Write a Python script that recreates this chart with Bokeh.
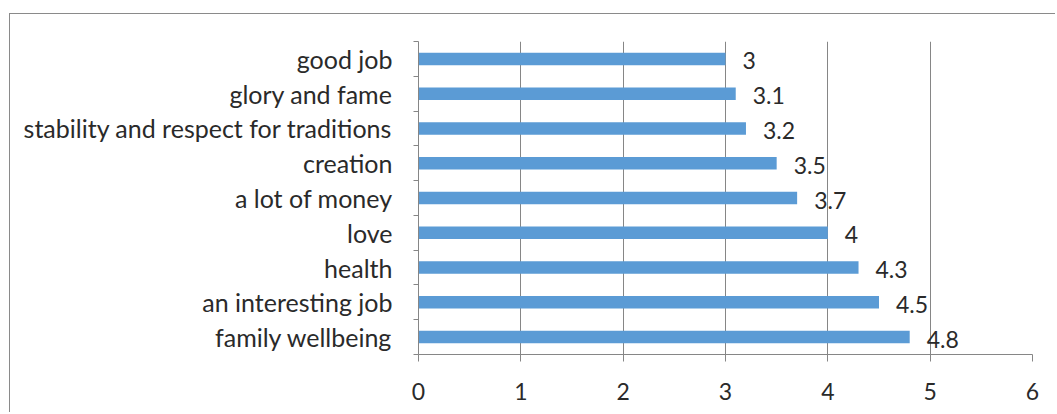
from bokeh.plotting import figure
from bokeh.models import Range1d, FixedTicker, ColumnDataSource
from bokeh.core.properties import value
from bokeh.embed import file_html
from bokeh.resources import INLINE

categories = ["good job", "glory and fame", "stability and respect for traditions",
              "creation", "a lot of money", "love", "health",
              "an interesting job", "family wellbeing"]
values = [3.0, 3.1, 3.2, 3.5, 3.7, 4.0, 4.3, 4.5, 4.8]
x_ticks = [0, 1, 2, 3, 4, 5, 6]

FONT = "Lato"
GRAY = "#868686"
TXT = "#2a2a2a"

ys = [i + 0.5 for i in range(len(categories))]
src = ColumnDataSource(dict(y=ys, v=values, lab=[f"{v:g}" for v in values]))

p = figure(width=1046, height=399, output_backend="svg", toolbar_location=None,
           x_range=Range1d(0, 6), y_range=Range1d(len(categories), 0),
           min_border_left=408, min_border_right=24, min_border_top=27,
           min_border_bottom=59)
p.margin = (13, 0, 0, 9)
p.styles = {"border-top": "1.5px solid #8a8a8a", "border-left": "1.5px solid #8a8a8a"}
p.outline_line_color = None
p.background_fill_color = "white"
p.border_fill_color = "white"

p.hbar(y="y", left=0, right="v", height=0.36, source=src,
       fill_color="#5B9BD5", line_color=None)
p.text(x="v", y="y", text="lab", source=src, x_offset=17, y_offset=2,
       text_align="left", text_baseline="middle", text_font=value(FONT),
       text_font_size="23px", text_color=TXT)

# x axis
p.xaxis.ticker = FixedTicker(ticks=x_ticks)
p.xaxis.axis_line_color = GRAY
p.xaxis.major_tick_line_color = GRAY
p.xaxis.major_tick_in = 0
p.xaxis.major_tick_out = 7
p.xaxis.minor_tick_line_color = None
p.xaxis.major_label_text_font = FONT
p.xaxis.major_label_text_font_size = "23px"
p.xaxis.major_label_text_color = TXT
p.xaxis.major_label_standoff = 21

# y axis
p.yaxis.ticker = FixedTicker(ticks=ys, minor_ticks=list(range(len(categories) + 1)))
p.yaxis.major_label_overrides = {y: c for y, c in zip(ys, categories)}
p.yaxis.axis_line_color = GRAY
p.yaxis.major_tick_line_color = None
p.yaxis.major_tick_in = 0
p.yaxis.major_tick_out = 5
p.yaxis.minor_tick_line_color = GRAY
p.yaxis.minor_tick_in = 0
p.yaxis.minor_tick_out = 5
p.yaxis.major_label_text_font = FONT
p.yaxis.major_label_text_font_size = "25px"
p.yaxis.major_label_text_color = TXT
p.yaxis.major_label_standoff = 21

p.xgrid.grid_line_color = GRAY
p.ygrid.grid_line_color = None

open("out.html", "w").write(file_html(p, INLINE))
